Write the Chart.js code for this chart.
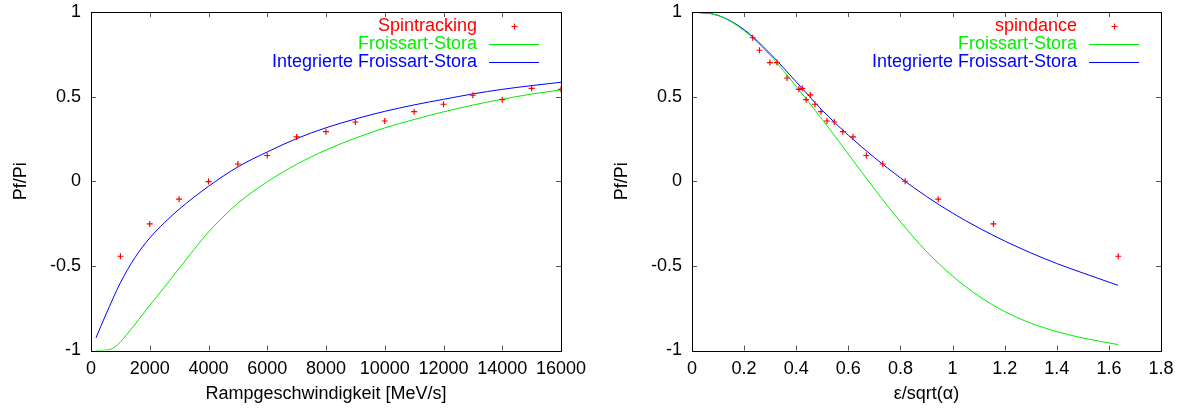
<!DOCTYPE html>
<html>
<head>
<meta charset="utf-8">
<script src="https://cdn.jsdelivr.net/npm/chart.js@4.4.0/dist/chart.umd.min.js"></script>
<style>
  body { margin: 0; background: #fff; }
  #wrap { position: relative; width: 1178px; height: 409px; }
  canvas { position: absolute; top: 0; }
</style>
</head>
<body>
<div id="wrap">
  <canvas id="left" width="589" height="409" style="left:0"></canvas>
  <canvas id="right" width="589" height="409" style="left:589px"></canvas>
</div>
<script>
// left panel: Rampgeschwindigkeit
var rampSpeeds = [1000, 2000, 3000, 4000, 5000, 6000, 7000, 8000, 9000, 10000, 11000, 12000, 13000, 14000, 15000, 16000];
var spintrackingPf = [-0.443, -0.252, -0.106, -0.002, 0.102, 0.152, 0.262, 0.293, 0.350, 0.356, 0.411, 0.455, 0.508, 0.482, 0.549, 0.543];

var fsRamp = [170, 500, 700, 875, 1330, 1900, 2580, 3000, 3500, 4000, 4500, 5000, 5500, 6000, 7000, 8000, 9000, 10000, 11000, 12000, 13000, 14000, 15000, 16000];
var fsRampPf = [-1.0, -0.998, -0.99, -0.971, -0.882, -0.755, -0.608, -0.515, -0.405, -0.30, -0.21, -0.13, -0.063, -0.003, 0.10, 0.185, 0.255, 0.315, 0.365, 0.41, 0.45, 0.485, 0.515, 0.54];

var intFsRamp = [170, 500, 1000, 1500, 2000, 2500, 3000, 4000, 5000, 6000, 7000, 8000, 9000, 10000, 11000, 12000, 13000, 14000, 15000, 16000];
var intFsRampPf = [-0.925, -0.79, -0.60, -0.45, -0.335, -0.245, -0.165, -0.03, 0.085, 0.173, 0.252, 0.316, 0.368, 0.413, 0.451, 0.484, 0.516, 0.543, 0.565, 0.585];

// right panel: eps/sqrt(alpha)
var spindanceEps = [0.233, 0.259, 0.299, 0.326, 0.365, 0.410, 0.423, 0.438, 0.454, 0.472, 0.495, 0.518, 0.546, 0.579, 0.618, 0.669, 0.732, 0.818, 0.945, 1.157, 1.636];
var spindancePf = [0.848, 0.774, 0.701, 0.701, 0.610, 0.543, 0.549, 0.482, 0.510, 0.455, 0.411, 0.356, 0.350, 0.293, 0.262, 0.152, 0.102, 0.0, -0.106, -0.252, -0.443];

var fsEps = [0, 0.1, 0.2, 0.3, 0.4, 0.5, 0.6, 0.7, 0.8, 0.9, 1.0, 1.1, 1.2, 1.3, 1.4, 1.5, 1.635];
var fsEpsPf = [1.0, 0.98, 0.89, 0.744, 0.56, 0.365, 0.16, -0.045, -0.24, -0.415, -0.56, -0.678, -0.77, -0.838, -0.888, -0.926, -0.965];

var intFsEps = [0, 0.1, 0.2, 0.3, 0.4, 0.5, 0.6, 0.7, 0.8, 0.9, 1.0, 1.1, 1.2, 1.3, 1.4, 1.5, 1.635];
var intFsEpsPf = [1.0, 0.98, 0.896, 0.754, 0.587, 0.419, 0.272, 0.14, 0.02, -0.09, -0.188, -0.275, -0.353, -0.423, -0.486, -0.542, -0.615];

// ticks
var rampTicks = [0, 2000, 4000, 6000, 8000, 10000, 12000, 14000, 16000];
var epsTicks = [0, 0.2, 0.4, 0.6, 0.8, 1, 1.2, 1.4, 1.6, 1.8];
var pfTicks = [-1, -0.5, 0, 0.5, 1];

var FONT = "'Liberation Sans', Arial, Helvetica, sans-serif";

function pts(xs, ys) {
  return xs.map(function(x, i) { return { x: x, y: ys[i] }; });
}

// gnuplot style box with inward ticks on all four sides
var frame = {
  id: 'frame',
  afterDatasetsDraw: function(chart) {
    var ctx = chart.ctx, a = chart.chartArea;
    var xs = chart.scales.x, ys = chart.scales.y;
    ctx.save();
    ctx.strokeStyle = '#555';
    ctx.lineWidth = 1;
    ctx.beginPath();
    xs.ticks.forEach(function(t) {
      var px = Math.round(xs.getPixelForValue(t.value)) + 0.5;
      ctx.moveTo(px, a.bottom); ctx.lineTo(px, a.bottom - 5);
      ctx.moveTo(px, a.top); ctx.lineTo(px, a.top + 5);
    });
    ys.ticks.forEach(function(t) {
      var py = Math.round(ys.getPixelForValue(t.value)) + 0.5;
      ctx.moveTo(a.left, py); ctx.lineTo(a.left + 5, py);
      ctx.moveTo(a.right, py); ctx.lineTo(a.right - 5, py);
    });
    ctx.stroke();
    ctx.strokeStyle = '#000';
    ctx.strokeRect(Math.round(a.left) + 0.5, Math.round(a.top) + 0.5,
                   Math.round(a.right - a.left), Math.round(a.bottom - a.top));
    ctx.restore();
  },
  afterDraw: function(chart) {
    // key, text right aligned with sample on its right
    var ctx = chart.ctx, a = chart.chartArea;
    ctx.save();
    ctx.font = '18px ' + FONT;
    ctx.textAlign = 'right';
    ctx.textBaseline = 'middle';
    chart.data.datasets.forEach(function(ds, i) {
      var y = a.top + 14 + i * 17.8;
      ctx.fillStyle = ds.borderColor;
      ctx.fillText(ds.label, a.right - 84, y);
      ctx.strokeStyle = ds.borderColor;
      ctx.lineWidth = 1;
      ctx.beginPath();
      if (ds.showLine) {
        ctx.moveTo(a.right - 72, Math.round(y) + 0.5);
        ctx.lineTo(a.right - 22, Math.round(y) + 0.5);
      } else {
        var cx = Math.round(a.right - 47) + 0.5, cy = Math.round(y) + 0.5;
        ctx.moveTo(cx - 3, cy); ctx.lineTo(cx + 3, cy);
        ctx.moveTo(cx, cy - 3); ctx.lineTo(cx, cy + 3);
      }
      ctx.stroke();
    });
    ctx.restore();
  }
};

function makeChart(id, cfg) {
  new Chart(document.getElementById(id), {
    type: 'scatter',
    data: {
      datasets: [
        {
          label: cfg.pointLabel,
          data: pts(cfg.pointX, cfg.pointY),
          showLine: false,
          pointStyle: 'cross',
          pointRadius: 3,
          pointBorderWidth: 1.2,
          borderColor: '#ff0000',
          backgroundColor: '#ff0000'
        },
        {
          label: 'Froissart-Stora',
          data: pts(cfg.fsX, cfg.fsY),
          showLine: true,
          pointRadius: 0,
          borderWidth: 1,
          borderColor: '#00ee00',
          cubicInterpolationMode: 'monotone'
        },
        {
          label: 'Integrierte Froissart-Stora',
          data: pts(cfg.intX, cfg.intY),
          showLine: true,
          pointRadius: 0,
          borderWidth: 1,
          borderColor: '#0000ff',
          cubicInterpolationMode: 'monotone'
        }
      ]
    },
    options: {
      responsive: false,
      animation: false,
      layout: { padding: cfg.padding },
      plugins: { legend: { display: false }, tooltip: { enabled: false } },
      scales: {
        x: {
          type: 'linear',
          min: cfg.xMin,
          max: cfg.xMax,
          afterBuildTicks: function(s) { s.ticks = cfg.xTicks.map(function(v) { return { value: v }; }); },
          afterFit: function(s) {
            s.height = 58.5;
            s.paddingLeft = 0; s.paddingRight = 0;
          },
          grid: { display: false, drawTicks: false },
          border: { display: false },
          ticks: {
            padding: 8,
            color: '#000',
            maxRotation: 0,
            font: { family: FONT, size: 18 },
            callback: function(v) { return String(v); }
          },
          title: {
            display: true,
            text: cfg.xTitle,
            color: '#000',
            font: { family: FONT, size: 18 },
            padding: { top: 0, bottom: 4 }
          }
        },
        y: {
          min: -1,
          max: 1,
          afterBuildTicks: function(s) { s.ticks = pfTicks.map(function(v) { return { value: v }; }); },
          afterFit: function(s) {
            s.width = 91;
            s.paddingTop = 0; s.paddingBottom = 0;
          },
          grid: { display: false, drawTicks: false },
          border: { display: false },
          ticks: {
            padding: 10,
            color: '#000',
            font: { family: FONT, size: 18 },
            callback: function(v) { return String(v); }
          },
          title: {
            display: true,
            text: 'Pf/Pi',
            color: '#000',
            font: { family: FONT, size: 18 },
            padding: { top: 10, bottom: 0 }
          }
        }
      }
    },
    plugins: [frame]
  });
}

makeChart('left', {
  pointLabel: 'Spintracking',
  pointX: rampSpeeds, pointY: spintrackingPf,
  fsX: fsRamp, fsY: fsRampPf,
  intX: intFsRamp, intY: intFsRampPf,
  xMin: 0, xMax: 16000, xTicks: rampTicks,
  xTitle: 'Rampgeschwindigkeit [MeV/s]',
  padding: { left: 0, right: 28, top: 12, bottom: 0 }
});

makeChart('right', {
  pointLabel: 'spindance',
  pointX: spindanceEps, pointY: spindancePf,
  fsX: fsEps, fsY: fsEpsPf,
  intX: intFsEps, intY: intFsEpsPf,
  xMin: 0, xMax: 1.8, xTicks: epsTicks,
  xTitle: 'ε/sqrt(α)',
  padding: { left: 12, right: 17, top: 12, bottom: 0 }
});
</script>
</body>
</html>
